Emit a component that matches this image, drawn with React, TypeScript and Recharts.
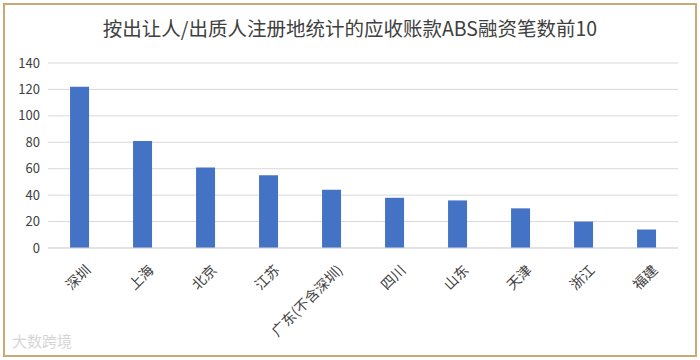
import { BarChart, Bar, XAxis, YAxis, CartesianGrid } from 'recharts';

const regions = ['深圳', '上海', '北京', '江苏', '广东(不含深圳)', '四川', '山东', '天津', '浙江', '福建'];
const dealCounts = [122, 81, 61, 55, 44, 38, 36, 30, 20, 14];
const yTicks = [0, 20, 40, 60, 80, 100, 120, 140];

const data = regions.map((name, i) => ({ name, count: dealCounts[i] }));

const font = '"Noto Sans CJK SC", "Noto Sans", sans-serif';

function RotatedTick(props: any) {
  const { x, y, payload } = props;
  return (
    <g transform={`translate(${x + 5},${y + 8})`}>
      <text
        transform="rotate(-45)"
        textAnchor="end"
        dy={10}
        fontSize={14}
        fill="#404040"
        fontFamily={font}
      >
        {payload.value}
      </text>
    </g>
  );
}

export default function App() {
  return (
    <div
      style={{
        position: 'absolute',
        left: 0,
        top: 0,
        width: 700,
        height: 360,
        background: '#fff',
        fontFamily: font,
      }}
    >
      <div
        style={{
          position: 'absolute',
          left: 3,
          top: 3,
          width: 690,
          height: 350,
          border: '2px solid #caa877',
        }}
      />
      <div
        style={{
          position: 'absolute',
          top: 13,
          left: 0,
          width: 700,
          textAlign: 'center',
          fontSize: 19.5,
          color: '#404040',
        }}
      >
        按出让人/出质人注册地统计的应收账款ABS融资笔数前10
      </div>
      <BarChart
        width={700}
        height={360}
        data={data}
        margin={{ top: 63, right: 22, bottom: 12, left: 8 }}
        barCategoryGap="35%"
      >
        <CartesianGrid vertical={false} stroke="#d9d9d9" />
        <XAxis
          dataKey="name"
          interval={0}
          height={100}
          tickLine={false}
          axisLine={{ stroke: '#d9d9d9' }}
          tick={<RotatedTick />}
        />
        <YAxis
          width={40}
          domain={[0, 140]}
          ticks={yTicks}
          tickLine={false}
          axisLine={false}
          tick={{ fontSize: 13, fill: '#404040', fontFamily: font }}
        />
        <Bar dataKey="count" fill="#4472c4" isAnimationActive={false} />
      </BarChart>
      <div
        style={{
          position: 'absolute',
          left: 12,
          top: 330,
          fontSize: 15,
          color: '#d6d6d6',
        }}
      >
        大数跨境
      </div>
    </div>
  );
}
